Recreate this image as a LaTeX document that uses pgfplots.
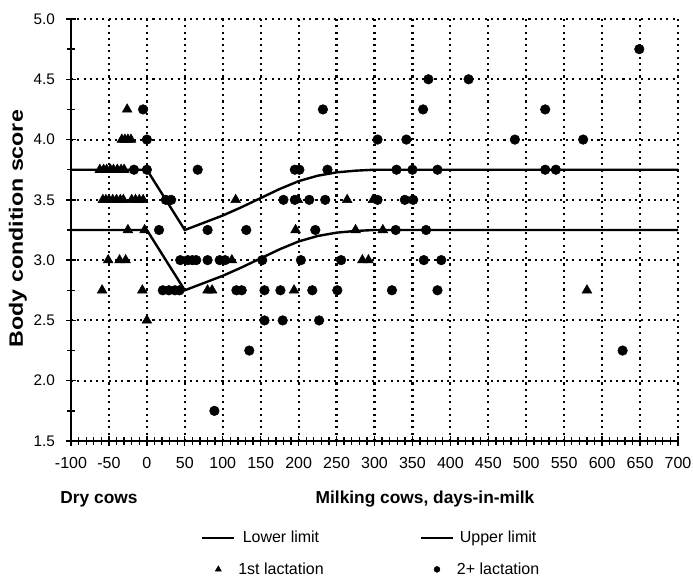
\documentclass[border=0pt]{standalone}
\usepackage{fontspec}
\setmainfont{Liberation Sans}
\usepackage{pgfplots}
\pgfplotsset{compat=1.18}
\pgfplotsset{
  lineleg/.style={legend image code/.code={\draw[##1] (0cm,0cm) -- (0.85cm,0cm);}},
  markleg/.style={legend image code/.code={\path (0cm,0cm) (0.85cm,0cm); \draw[##1, mark size=#1] plot coordinates {(0.425cm,0cm)};}},
}
\begin{document}
\begin{tikzpicture}
\useasboundingbox (0,0) rectangle (519.75pt,433.5pt);
\begin{axis}[
  at={(53.25pt,102.75pt)}, anchor=south west,
  scale only axis, width=455.25pt, height=316.5pt,
  xmin=-100, xmax=700, ymin=1.5, ymax=5,
  axis x line*=bottom, axis y line*=left,
  axis line style={line width=1.5pt, -},
  xtick={-100,-50,...,700},
  xticklabels={-100,-50,0,50,100,150,200,250,300,350,400,450,500,550,600,650,700},
  ytick={1.5,2,...,5},
  yticklabels={1.5,2.0,2.5,3.0,3.5,4.0,4.5,5.0},
  minor x tick num=4, minor y tick num=1,
  tick align=center,
  major tick length=7pt, minor tick length=6pt,
  tick style={black, line width=1pt},
  grid=major,
  major grid style={black, line width=1.6pt, dash pattern=on 1.6pt off 3.1pt},
  xticklabel style={font=\fontsize{12}{14}\selectfont, yshift=-5pt},
  yticklabel style={font=\fontsize{11.5}{14}\selectfont, xshift=-5pt},
  legend columns=2,
  legend style={at={(0.495,-0.2)}, anchor=north, draw=none, fill=none,
    font=\fontsize{12}{14}\selectfont, row sep=9.5pt,
    /tikz/every even column/.append style={column sep=70pt}},
]
\addplot[black, line width=1.8pt, lineleg]
  coordinates {(-100,3.25)(0,3.25)(50,2.75)(75,2.81)(100,2.87)(125,2.94)(150,3.015)(175,3.09)(200,3.155)(225,3.2)(250,3.228)(275,3.242)(300,3.25)(700,3.25)};
\addlegendentry{Lower limit}
\addplot[black, line width=1.8pt, lineleg]
  coordinates {(-100,3.75)(0,3.75)(50,3.25)(75,3.31)(100,3.37)(125,3.44)(150,3.515)(175,3.59)(200,3.655)(225,3.7)(250,3.728)(275,3.742)(300,3.75)(700,3.75)};
\addlegendentry{Upper limit}
\addplot[only marks, mark=triangle*, mark size=4.2pt, black, markleg=2.6pt]
  coordinates {
  (-26,4.25)
  (-33,4.0)(-29,4.0)(-25,4.0)(-21,4.0)
  (-62,3.75)(-57,3.75)(-53,3.75)(-48,3.75)(-44,3.75)(-39,3.75)(-34,3.75)(-30,3.75)
  (-58,3.5)(-54,3.5)(-50,3.5)(-45,3.5)(-40,3.5)(-35,3.5)(-31,3.5)(-20,3.5)(-15,3.5)(-10,3.5)(-5,3.5)(117,3.5)(199,3.5)(264,3.5)(298,3.5)
  (-25,3.25)(-3,3.25)(196,3.25)(275,3.25)(311,3.25)
  (-51,3.0)(-36,3.0)(-28,3.0)(112,3.0)(284,3.0)(292,3.0)
  (-59,2.75)(-6,2.75)(80,2.75)(86,2.75)(194,2.75)(580,2.75)
  (0,2.5)};
\addlegendentry{1st lactation}
\addplot[only marks, mark=*, mark size=3.6pt, black, markleg=2.2pt]
  coordinates {
  (-5,4.25)(232,4.25)(364,4.25)(525,4.25)
  (0,4.0)(304,4.0)(342,4.0)(485,4.0)(575,4.0)
  (371,4.5)(424,4.5)(649,4.75)
  (-17,3.75)(0,3.75)(67,3.75)(195,3.75)(201,3.75)(238,3.75)(329,3.75)(350,3.75)(383,3.75)(525,3.75)(539,3.75)
  (25,3.5)(32,3.5)(180,3.5)(195,3.5)(214,3.5)(235,3.5)(304,3.5)(340,3.5)(351,3.5)
  (16,3.25)(80,3.25)(131,3.25)(222,3.25)(328,3.25)(368,3.25)
  (44,3.0)(54,3.0)(60,3.0)(65,3.0)(80,3.0)(96,3.0)(103,3.0)(152,3.0)(203,3.0)(256,3.0)(365,3.0)(388,3.0)
  (21,2.75)(29,2.75)(37,2.75)(43,2.75)(118,2.75)(125,2.75)(155,2.75)(176,2.75)(218,2.75)(251,2.75)(323,2.75)(383,2.75)
  (155,2.5)(179,2.5)(227,2.5)
  (135,2.25)(627,2.25)
  (89,1.75)};
\addlegendentry{2+ lactation}
\end{axis}
\node[font=\fontsize{13}{15}\selectfont\bfseries] at (74.25pt,59.25pt) {Dry cows};
\node[font=\fontsize{13}{15}\selectfont\bfseries] at (318.75pt,59.25pt) {Milking cows, days-in-milk};
\node[rotate=90, font=\fontsize{14.5}{16}\selectfont\bfseries] at (13.5pt,262pt) {\scalebox{1.2}[1]{Body condition score}};
\end{tikzpicture}
\end{document}
